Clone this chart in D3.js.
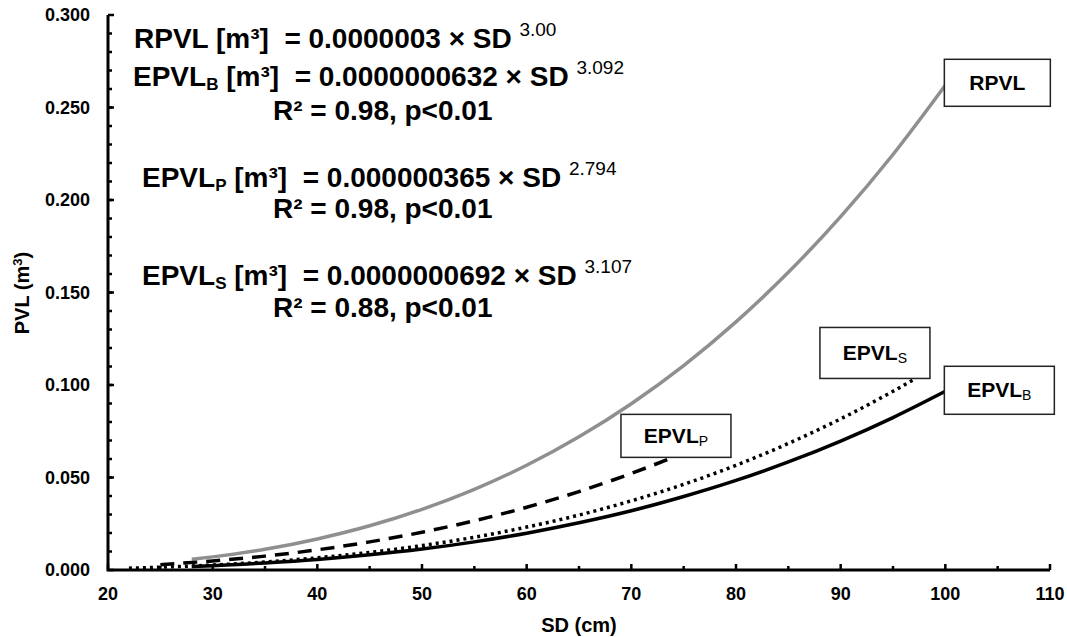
<!DOCTYPE html>
<meta charset="utf-8">
<style>
body { margin: 0; background: #fff; }
svg { font-family: "Liberation Sans", Arial, sans-serif; }
.tick-label { font-size: 18px; font-weight: bold; fill: #000; }
.axis-title { font-size: 20px; font-weight: bold; fill: #000; }
.eq { font-size: 28px; font-weight: bold; fill: #000; }
.box { fill: #fff; stroke: #222; stroke-width: 1.5px; }
.box-label { font-size: 21px; font-weight: bold; fill: #000; }
</style>
<svg id="chart" width="1067" height="637"></svg>
<script src="https://cdn.jsdelivr.net/npm/d3@7"></script>
<script>
// values (SD in cm, PVL in m³)
var rpvlSD   = [28, 30, 35, 40, 45, 50, 55, 60, 65, 70, 75, 80, 85, 90, 95, 100];
var rpvlVal  = [0.0058, 0.0071, 0.0112, 0.0168, 0.0239, 0.0328, 0.0436, 0.0566, 0.0720, 0.0899, 0.1105, 0.1341, 0.1609, 0.1910, 0.2246, 0.2620];

var epvlBSD  = [28, 30, 35, 40, 45, 50, 55, 60, 65, 70, 75, 80, 85, 90, 95, 100];
var epvlBVal = [0.0019, 0.0023, 0.0038, 0.0057, 0.0082, 0.0113, 0.0152, 0.0199, 0.0255, 0.0320, 0.0397, 0.0484, 0.0584, 0.0697, 0.0824, 0.0966];

var epvlSSD  = [22, 25, 30, 35, 40, 45, 50, 55, 60, 65, 70, 75, 80, 85, 90, 95, 97];
var epvlSVal = [0.0010, 0.0015, 0.0027, 0.0043, 0.0066, 0.0095, 0.0132, 0.0177, 0.0232, 0.0297, 0.0374, 0.0463, 0.0566, 0.0684, 0.0817, 0.0966, 0.1030];

var epvlPSD  = [25, 30, 35, 40, 45, 50, 55, 60, 65, 70, 73.5];
var epvlPVal = [0.0029, 0.0049, 0.0075, 0.0109, 0.0152, 0.0204, 0.0266, 0.0339, 0.0424, 0.0522, 0.0598];

var xTicks = [20, 30, 40, 50, 60, 70, 80, 90, 100, 110];
var yTicks = [0, 0.05, 0.1, 0.15, 0.2, 0.25, 0.3];

var series = [
  {id: "RPVL",  sub: "",  sd: rpvlSD,  val: rpvlVal,  color: "#8f8f8f", width: 3.5, dash: null},
  {id: "EPVL",  sub: "P", sd: epvlPSD, val: epvlPVal, color: "#000", width: 3.5, dash: "14,9"},
  {id: "EPVL",  sub: "S", sd: epvlSSD, val: epvlSVal, color: "#000", width: 3.5, dash: "3,4"},
  {id: "EPVL",  sub: "B", sd: epvlBSD, val: epvlBVal, color: "#000", width: 3.5, dash: null}
];

var svg = d3.select("#chart");

var x = d3.scaleLinear().domain([20, 110]).range([108, 1050]),
    y = d3.scaleLinear().domain([0, 0.3]).range([570, 15]);

// minor ticks
var g = svg.append("g");
g.selectAll(".xminor").data(d3.range(25, 110, 10)).enter().append("line")
    .attr("x1", function(d) { return x(d); }).attr("x2", function(d) { return x(d); })
    .attr("y1", y(0)).attr("y2", y(0) - 4)
    .attr("stroke", "#000").attr("stroke-width", 2.5);
g.selectAll(".xmajor").data(xTicks).enter().append("line")
    .attr("x1", function(d) { return x(d); }).attr("x2", function(d) { return x(d); })
    .attr("y1", y(0)).attr("y2", y(0) - 6)
    .attr("stroke", "#000").attr("stroke-width", 2.5);
g.selectAll(".yminor").data(d3.range(0.01, 0.3, 0.01)).enter().append("line")
    .attr("x1", x(20)).attr("x2", x(20) + 4)
    .attr("y1", function(d) { return y(d); }).attr("y2", function(d) { return y(d); })
    .attr("stroke", "#000").attr("stroke-width", 2.5);
g.selectAll(".ymajor").data(yTicks).enter().append("line")
    .attr("x1", x(20)).attr("x2", x(20) + 6)
    .attr("y1", function(d) { return y(d); }).attr("y2", function(d) { return y(d); })
    .attr("stroke", "#000").attr("stroke-width", 2.5);

// axis lines
svg.append("path")
    .attr("d", "M" + x(20) + "," + y(0.3) + "V" + y(0) + "H" + x(110))
    .attr("fill", "none").attr("stroke", "#000").attr("stroke-width", 3);

// tick labels
svg.selectAll(".xl").data(xTicks).enter().append("text")
    .attr("class", "tick-label")
    .attr("x", function(d) { return x(d); })
    .attr("y", 600)
    .attr("text-anchor", "middle")
    .text(function(d) { return d; });
svg.selectAll(".yl").data(yTicks).enter().append("text")
    .attr("class", "tick-label")
    .attr("x", 90)
    .attr("y", function(d) { return y(d); })
    .attr("dy", "0.35em")
    .attr("text-anchor", "end")
    .text(function(d) { return d3.format(".3f")(d); });

// axis titles
svg.append("text").attr("class", "axis-title")
    .attr("x", 579).attr("y", 632).attr("text-anchor", "middle")
    .text("SD (cm)");
var yt = svg.append("text").attr("class", "axis-title")
    .attr("transform", "translate(29,293) rotate(-90)")
    .attr("text-anchor", "middle");
yt.append("tspan").text("PVL (m");
yt.append("tspan").attr("font-size", "13px").attr("dy", "-7").text("3");
yt.append("tspan").attr("dy", "7").text(")");

// curves
var line = d3.line()
    .curve(d3.curveMonotoneX)
    .x(function(d) { return x(d[0]); })
    .y(function(d) { return y(d[1]); });

series.forEach(function(s) {
  var pts = s.sd.map(function(v, i) { return [v, s.val[i]]; });
  s.pts = pts;
  svg.append("path")
      .attr("d", line(pts))
      .attr("fill", "none")
      .attr("stroke", s.color)
      .attr("stroke-width", s.width)
      .attr("stroke-dasharray", s.dash);
});

// label boxes: [series index, box left offset from line end, box top offset from line end, w, h]
var boxes = [
  [0, -1, -26, 106, 47],
  [1, -47, -45, 110, 43],
  [2, -94, -52, 110, 51],
  [3, -1, -25, 110, 48]
];
boxes.forEach(function(b) {
  var s = series[b[0]], last = s.pts[s.pts.length - 1];
  var bx = x(last[0]) + b[1], by = y(last[1]) + b[2];
  svg.append("rect").attr("class", "box")
      .attr("x", bx).attr("y", by).attr("width", b[3]).attr("height", b[4]);
  var t = svg.append("text").attr("class", "box-label")
      .attr("x", bx + b[3] / 2).attr("y", by + b[4] / 2 + 7)
      .attr("text-anchor", "middle");
  t.append("tspan").text(s.id);
  if (s.sub) t.append("tspan").attr("font-size", "14px").attr("font-weight", "normal").attr("dy", 3).text(s.sub);
});

// equations
var eqs = [
  {x: 134, y: 48,  name: "RPVL", sub: "", rest: " [m³]  = 0.0000003 × SD ", sup: "3.00"},
  {x: 133, y: 86,  name: "EPVL", sub: "B", rest: " [m³]  = 0.0000000632 × SD ", sup: "3.092"},
  {x: 273, y: 120, name: "R² = 0.98, p<0.01", sub: "", rest: "", sup: ""},
  {x: 142, y: 187, name: "EPVL", sub: "P", rest: " [m³]  = 0.000000365 × SD ", sup: "2.794"},
  {x: 273, y: 218, name: "R² = 0.98, p<0.01", sub: "", rest: "", sup: ""},
  {x: 142, y: 285, name: "EPVL", sub: "S", rest: " [m³]  = 0.0000000692 × SD ", sup: "3.107"},
  {x: 273, y: 317, name: "R² = 0.88, p<0.01", sub: "", rest: "", sup: ""}
];
eqs.forEach(function(e) {
  var t = svg.append("text").attr("class", "eq").attr("x", e.x).attr("y", e.y).attr("xml:space", "preserve");
  t.append("tspan").text(e.name);
  if (e.sub) t.append("tspan").attr("font-size", "17px").attr("dy", 4).text(e.sub);
  if (e.rest) t.append("tspan").attr("dy", e.sub ? -4 : 0).text(e.rest);
  if (e.sup) t.append("tspan").attr("font-size", "19px").attr("font-weight", "normal").attr("dy", -12).text(e.sup);
});
</script>
